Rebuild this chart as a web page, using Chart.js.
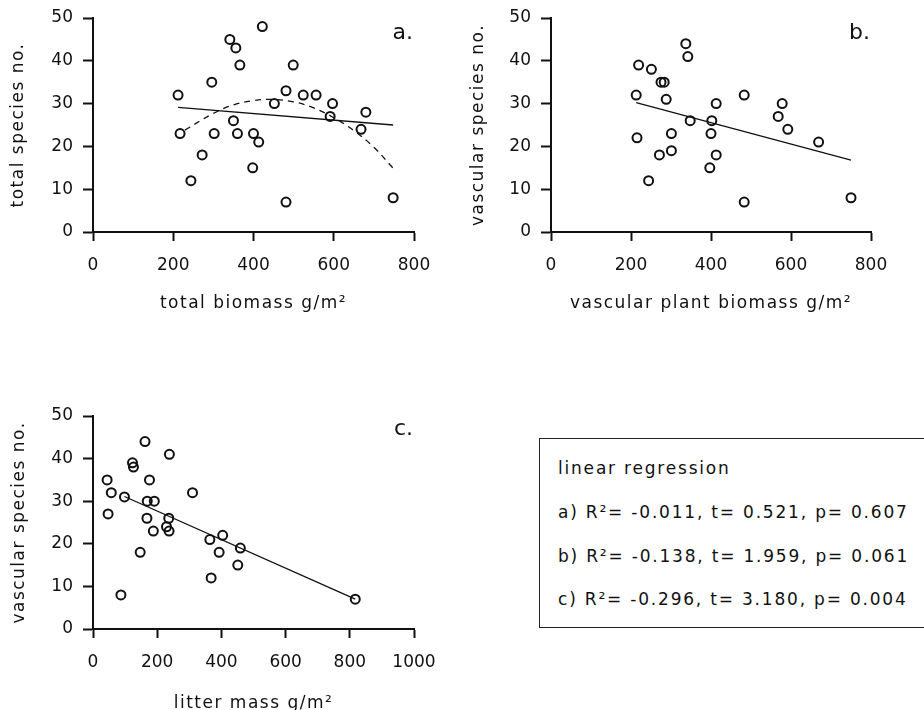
<!DOCTYPE html>
<html>
<head>
<meta charset="utf-8">
<script src="https://cdn.jsdelivr.net/npm/chart.js@4.4.0/dist/chart.umd.min.js"></script>
<style>
  body { margin: 0; width: 924px; height: 710px; overflow: hidden; background: #fff; position: relative; font-family: "DejaVu Sans", sans-serif; }
  canvas { position: absolute; }
  #caixa { position: absolute; left: 539px; top: 438px; width: 420px; height: 190px; border: 1px solid #222; box-sizing: border-box; }
  #caixa div { position: absolute; left: 18px; font-size: 17px; line-height: 20px; letter-spacing: 1.8px; color: #111; white-space: nowrap; }
</style>
</head>
<body>
<canvas id="grafA" width="440" height="320" style="left:0;top:0"></canvas>
<canvas id="grafB" width="440" height="320" style="left:460px;top:0"></canvas>
<canvas id="grafC" width="440" height="340" style="left:0;top:380px"></canvas>
<div id="caixa">
  <div style="top:19px">linear regression</div>
  <div style="top:63px">a) R²= -0.011, t= 0.521, p= 0.607</div>
  <div style="top:107px">b) R²= -0.138, t= 1.959, p= 0.061</div>
  <div style="top:150px">c) R²= -0.296, t= 3.180, p= 0.004</div>
</div>
<script>
// a. total biomass vs total species
const biomassaTotal = [212, 217, 244, 272, 296, 302, 341, 356, 350, 360, 366, 400, 398, 413, 422, 452, 481, 481, 499, 524, 556, 591, 597, 668, 680, 748];
const especiesTotal = [32, 23, 12, 18, 35, 23, 45, 43, 26, 23, 39, 23, 15, 21, 48, 30, 33, 7, 39, 32, 32, 27, 30, 24, 28, 8];
const retaAx = [212, 748];
const retaAy = [29.1, 25.0];
const curvaAx = [229, 300, 350, 400, 440, 500, 550, 600, 650, 700, 748];
const curvaAy = [23.8, 27.7, 29.7, 30.7, 31, 30.4, 29, 26.7, 23.7, 19.8, 14.9];

// b. vascular plant biomass vs vascular species
const biomassaVasc = [213, 215, 219, 244, 251, 271, 275, 283, 288, 301, 301, 337, 342, 348, 397, 400, 402, 413, 413, 483, 483, 568, 578, 592, 669, 750];
const especiesVascB = [32, 22, 39, 12, 38, 18, 35, 35, 31, 23, 19, 44, 41, 26, 15, 23, 26, 30, 18, 32, 7, 27, 30, 24, 21, 8];
const retaBx = [213, 750];
const retaBy = [30.2, 16.8];

// c. litter mass vs vascular species
const serapilheira = [44, 47, 57, 87, 98, 123, 126, 147, 162, 168, 169, 176, 188, 191, 229, 236, 237, 238, 310, 364, 368, 393, 404, 451, 459, 817];
const especiesVascC = [35, 27, 32, 8, 31, 39, 38, 18, 44, 26, 30, 35, 23, 30, 24, 26, 23, 41, 32, 21, 12, 18, 22, 15, 19, 7];
const retaCx = [98, 817];
const retaCy = [31.1, 7.0];

const ticksX = { a: 800, b: 800, c: 1000 };
const ticksY = { max: 50, passo: 10 };

function pares(xs, ys) {
  return xs.map((x, i) => ({ x: x, y: ys[i] }));
}

const fonte = { family: 'DejaVu Sans', size: 17 };
const corTexto = '#111';

const letraPlugin = {
  id: 'letra',
  afterDraw(chart, args, opts) {
    const { ctx, chartArea } = chart;
    ctx.save();
    ctx.font = '22px "DejaVu Sans"';
    ctx.fillStyle = corTexto;
    ctx.textAlign = 'right';
    ctx.textBaseline = 'middle';
    ctx.fillText(opts.text, chartArea.right + opts.dx, chartArea.top + opts.dy);
    ctx.restore();
  }
};

// axis titles in the reference are letter-spaced, tick labels are not
const espacoTitulo = {
  id: 'espacoTitulo',
  afterLayout(chart) {
    Object.values(chart.scales).forEach(s => {
      if (s._espaco) return;
      const orig = s.drawTitle.bind(s);
      s.drawTitle = function () {
        chart.ctx.letterSpacing = '1.5px';
        orig();
        chart.ctx.letterSpacing = '0px';
      };
      s._espaco = true;
    });
  }
};

function criarPainel(id, pontos, linhas, cfg) {
  const datasets = [{
    data: pontos,
    showLine: false,
    pointRadius: 4.5,
    pointBorderWidth: 2,
    borderColor: '#111',
    backgroundColor: 'transparent',
    order: 1
  }];
  linhas.forEach(l => {
    datasets.push({
      data: l.data,
      showLine: true,
      pointRadius: 0,
      borderColor: '#111',
      borderWidth: 1.3,
      borderDash: l.dash || [],
      tension: l.tension || 0,
      fill: false,
      order: 2
    });
  });

  return new Chart(document.getElementById(id), {
    type: 'scatter',
    data: { datasets: datasets },
    options: {
      responsive: false,
      animation: false,
      devicePixelRatio: 1,
      layout: { padding: { top: cfg.top, right: cfg.right, bottom: 0, left: 0 } },
      plugins: {
        legend: { display: false },
        tooltip: { enabled: false },
        letra: { text: cfg.letra, dx: cfg.dx, dy: cfg.dy }
      },
      scales: {
        x: {
          type: 'linear',
          min: 0,
          max: cfg.xmax,
          afterFit: s => { s.height = cfg.xh; s.paddingLeft = 0; s.paddingRight = 0; },
          ticks: { stepSize: 200, padding: 14, color: corTexto, font: fonte, callback: v => String(v) },
          grid: { drawOnChartArea: false, drawTicks: true, tickLength: 9, tickWidth: 2, tickColor: '#111' },
          border: { color: '#111', width: 2 },
          title: { display: true, text: cfg.xt, color: corTexto, font: fonte, padding: { top: 0, bottom: 6 } }
        },
        y: {
          min: 0,
          max: ticksY.max,
          afterFit: s => { s.width = cfg.yw; s.paddingTop = 0; s.paddingBottom = 0; },
          ticks: { stepSize: ticksY.passo, padding: 10, color: corTexto, font: fonte },
          grid: { drawOnChartArea: false, drawTicks: true, tickLength: 10, tickWidth: 2, tickColor: '#111' },
          border: { color: '#111', width: 2 },
          title: { display: true, text: cfg.yt, color: corTexto, font: fonte, padding: { top: cfg.ypad, bottom: 0 } }
        }
      }
    },
    plugins: [letraPlugin, espacoTitulo]
  });
}

criarPainel('grafA', pares(biomassaTotal, especiesTotal), [
  { data: pares(retaAx, retaAy) },
  { data: pares(curvaAx, curvaAy), dash: [6, 5], tension: 0.4 }
], { top: 18, right: 26, xh: 88, yw: 93, xmax: ticksX.a, letra: 'a.', dx: -1, dy: 15, xt: 'total biomass g/m²', yt: 'total species no.', ypad: 8 });

criarPainel('grafB', pares(biomassaVasc, especiesVascB), [
  { data: pares(retaBx, retaBy) }
], { top: 18, right: 29, xh: 88, yw: 91, xmax: ticksX.b, letra: 'b.', dx: -1, dy: 15, xt: 'vascular plant biomass g/m²', yt: 'vascular species no.', ypad: 8 });

criarPainel('grafC', pares(serapilheira, especiesVascC), [
  { data: pares(retaCx, retaCy) }
], { top: 36, right: 26, xh: 91, yw: 93, xmax: ticksX.c, letra: 'c.', dx: -1, dy: 13, xt: 'litter mass g/m²', yt: 'vascular species no.', ypad: 9 });
</script>
</body>
</html>
